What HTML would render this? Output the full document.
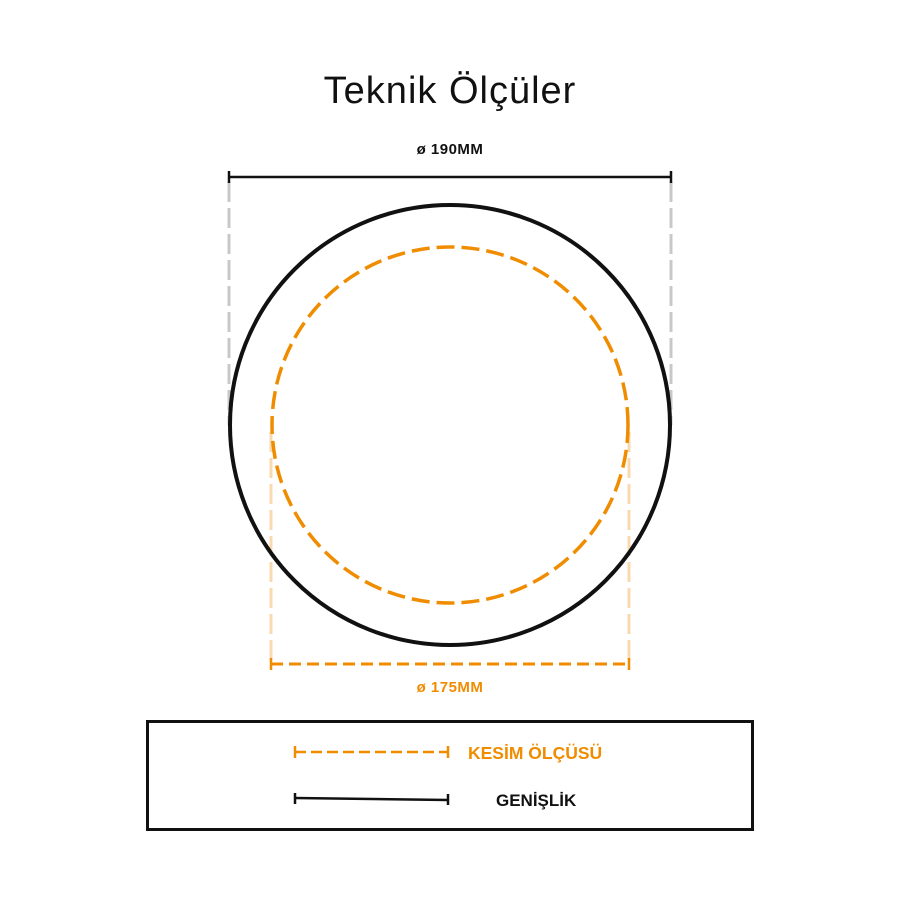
<!DOCTYPE html>
<html><head><meta charset="utf-8"><style>
body{margin:0;background:#fff;}
svg{display:block}
</style></head><body>
<svg width="900" height="900" viewBox="0 0 900 900" xmlns="http://www.w3.org/2000/svg">
<rect width="900" height="900" fill="#fff"/>
<text x="450" y="103" text-anchor="middle" font-family="Liberation Sans, sans-serif" font-size="38" letter-spacing="1" fill="#111">Teknik Ölçüler</text>
<text x="450" y="154" text-anchor="middle" font-family="Liberation Sans, sans-serif" font-size="15" font-weight="bold" letter-spacing="0.5" fill="#111">ø 190MM</text>
<line x1="229" y1="182" x2="229" y2="425" stroke="#c8c8c8" stroke-width="3" stroke-dasharray="20,6"/>
<line x1="671" y1="182" x2="671" y2="425" stroke="#c8c8c8" stroke-width="3" stroke-dasharray="20,6"/>
<line x1="229" y1="177" x2="671" y2="177" stroke="#111" stroke-width="2.5"/>
<line x1="229" y1="171" x2="229" y2="183" stroke="#111" stroke-width="2.5"/>
<line x1="671" y1="171" x2="671" y2="183" stroke="#111" stroke-width="2.5"/>
<line x1="271" y1="432" x2="271" y2="660" stroke="#fbd9b0" stroke-width="3" stroke-dasharray="20,6"/>
<line x1="629" y1="432" x2="629" y2="660" stroke="#fbd9b0" stroke-width="3" stroke-dasharray="20,6"/>
<circle cx="450" cy="425" r="220" fill="none" stroke="#111" stroke-width="4"/>
<circle cx="450" cy="425" r="178" fill="none" stroke="#f08c00" stroke-width="3.5" stroke-dasharray="18,7"/>
<line x1="271" y1="664" x2="629" y2="664" stroke="#f08c00" stroke-width="3" stroke-dasharray="12,6"/>
<line x1="271" y1="658" x2="271" y2="670" stroke="#f08c00" stroke-width="2.5"/>
<line x1="629" y1="658" x2="629" y2="670" stroke="#f08c00" stroke-width="2.5"/>
<text x="450" y="692" text-anchor="middle" font-family="Liberation Sans, sans-serif" font-size="15" font-weight="bold" letter-spacing="0.5" fill="#f08c00">ø 175MM</text>
<rect x="147.5" y="721.5" width="605" height="108" fill="none" stroke="#111" stroke-width="3"/>
<line x1="295" y1="752" x2="448" y2="752" stroke="#f08c00" stroke-width="2.5" stroke-dasharray="11,5"/>
<line x1="295" y1="746" x2="295" y2="758" stroke="#f08c00" stroke-width="2.5"/>
<line x1="448" y1="746" x2="448" y2="758" stroke="#f08c00" stroke-width="2.5"/>
<text x="468" y="759" font-family="Liberation Sans, sans-serif" font-size="17.5" font-weight="bold" fill="#f08c00">KESİM ÖLÇÜSÜ</text>
<line x1="295" y1="798" x2="448" y2="800" stroke="#111" stroke-width="2.5"/>
<line x1="295" y1="793" x2="295" y2="804" stroke="#111" stroke-width="2.5"/>
<line x1="448" y1="794" x2="448" y2="805" stroke="#111" stroke-width="2.5"/>
<text x="496" y="806" font-family="Liberation Sans, sans-serif" font-size="17" font-weight="bold" fill="#111">GENİŞLİK</text>
</svg>
</body></html>
